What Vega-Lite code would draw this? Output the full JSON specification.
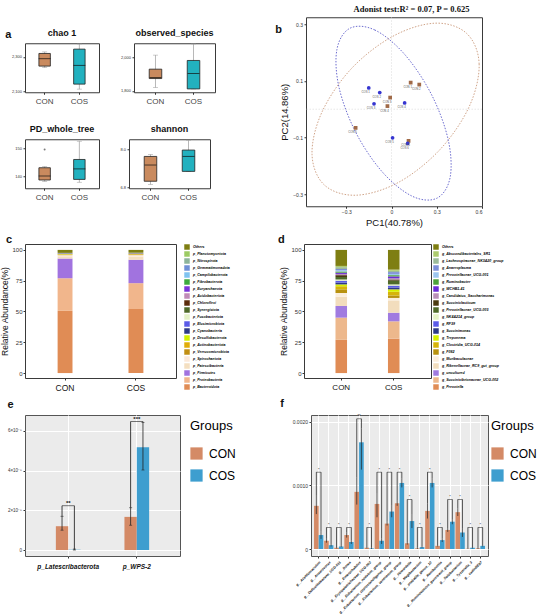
{
  "$schema": "https://vega.github.io/schema/vega-lite/v6.json",
  "background": "white",
  "padding": {"left": 0, "top": 3, "right": 0, "bottom": 0},
  "config": {
    "font": "Liberation Sans",
    "view": {"stroke": "#3a3a3a", "strokeWidth": 1},
    "axis": {"grid": false, "domain": false, "tickColor": "#333", "tickSize": 2, "labelColor": "#333", "titleFontWeight": "normal", "titleColor": "#111", "labelPadding": 1.5},
    "legend": {"titleFontWeight": "normal"},
    "title": {"fontWeight": "bold", "color": "#111"}
  },
  "datasets": {
    "alpha": [
      {"metric": "chao 1", "group": "CON", "min": 2238, "q1": 2247, "median": 2290, "q3": 2320, "max": 2329},
      {"metric": "chao 1", "group": "COS", "min": 2114, "q1": 2143, "median": 2251, "q3": 2345, "max": 2375},
      {"metric": "observed_species", "group": "CON", "min": 1820, "q1": 1874, "median": 1880, "q3": 1930, "max": 2014},
      {"metric": "observed_species", "group": "COS", "min": 1812, "q1": 1812, "median": 1904, "q3": 1982, "max": 2081},
      {"metric": "PD_whole_tree", "group": "CON", "min": 138.3, "q1": 138.8, "median": 140.2, "q3": 143.1, "max": 143.5},
      {"metric": "PD_whole_tree", "group": "COS", "min": 138, "q1": 139.0, "median": 142.7, "q3": 146.0, "max": 152.4},
      {"metric": "shannon", "group": "CON", "min": 6.89, "q1": 6.99, "median": 7.50, "q3": 7.77, "max": 7.83},
      {"metric": "shannon", "group": "COS", "min": 7.30, "q1": 7.30, "median": 7.77, "q3": 7.97, "max": 8.28}
    ],
    "alphaOut": [
      {"metric": "PD_whole_tree", "group": "CON", "value": 149.5}
    ],
    "pca": [
      {"sample": "CON 1", "group": "CON", "pc1": 0.127, "pc2": 0.094},
      {"sample": "CON 2", "group": "CON", "pc1": 0.184, "pc2": 0.087},
      {"sample": "CON 3", "group": "CON", "pc1": -0.009, "pc2": 0.041},
      {"sample": "CON 4", "group": "CON", "pc1": -0.027, "pc2": 0.011},
      {"sample": "CON 5", "group": "CON", "pc1": -0.238, "pc2": -0.066},
      {"sample": "CON 6", "group": "CON", "pc1": 0.113, "pc2": -0.112},
      {"sample": "COS 1", "group": "COS", "pc1": -0.151, "pc2": 0.075},
      {"sample": "COS 2", "group": "COS", "pc1": -0.078, "pc2": 0.059},
      {"sample": "COS 3", "group": "COS", "pc1": -0.116, "pc2": 0.019},
      {"sample": "COS 4", "group": "COS", "pc1": 0.087, "pc2": 0.022},
      {"sample": "COS 5", "group": "COS", "pc1": 0.007, "pc2": -0.101},
      {"sample": "COS 6", "group": "COS", "pc1": 0.107, "pc2": -0.121}
    ],
    "ellipse": [
      {"set": "CON", "t": 0, "pc1": 0.498, "pc2": 0.268},
      {"set": "CON", "t": 1, "pc1": 0.581, "pc2": 0.160},
      {"set": "CON", "t": 2, "pc1": 0.515, "pc2": 0.009},
      {"set": "CON", "t": 3, "pc1": 0.319, "pc2": -0.144},
      {"set": "CON", "t": 4, "pc1": 0.045, "pc2": -0.259},
      {"set": "CON", "t": 5, "pc1": -0.235, "pc2": -0.304},
      {"set": "CON", "t": 6, "pc1": -0.445, "pc2": -0.268},
      {"set": "CON", "t": 7, "pc1": -0.527, "pc2": -0.160},
      {"set": "CON", "t": 8, "pc1": -0.461, "pc2": -0.010},
      {"set": "CON", "t": 9, "pc1": -0.265, "pc2": 0.144},
      {"set": "CON", "t": 10, "pc1": 0.010, "pc2": 0.258},
      {"set": "CON", "t": 11, "pc1": 0.289, "pc2": 0.304},
      {"set": "COS", "t": 0, "pc1": -0.276, "pc2": 0.286},
      {"set": "COS", "t": 1, "pc1": -0.111, "pc2": 0.280},
      {"set": "COS", "t": 2, "pc1": 0.085, "pc2": 0.195},
      {"set": "COS", "t": 3, "pc1": 0.263, "pc2": 0.054},
      {"set": "COS", "t": 4, "pc1": 0.375, "pc2": -0.106},
      {"set": "COS", "t": 5, "pc1": 0.389, "pc2": -0.240},
      {"set": "COS", "t": 6, "pc1": 0.303, "pc2": -0.314},
      {"set": "COS", "t": 7, "pc1": 0.139, "pc2": -0.308},
      {"set": "COS", "t": 8, "pc1": -0.059, "pc2": -0.223},
      {"set": "COS", "t": 9, "pc1": -0.237, "pc2": -0.082},
      {"set": "COS", "t": 10, "pc1": -0.348, "pc2": 0.077},
      {"set": "COS", "t": 11, "pc1": -0.362, "pc2": 0.211}
    ],
    "phylum": [
      {"group": "CON", "taxon": "p_Bacteroidota", "pct": 50.5},
      {"group": "CON", "taxon": "p_Proteobacteria", "pct": 26.5},
      {"group": "CON", "taxon": "p_Firmicutes", "pct": 16},
      {"group": "CON", "taxon": "p_Patescibacteria", "pct": 1.8},
      {"group": "CON", "taxon": "p_Spirochaetota", "pct": 0.96},
      {"group": "CON", "taxon": "p_Verrucomicrobiota", "pct": 0.4},
      {"group": "CON", "taxon": "p_Actinobacteriota", "pct": 0.3},
      {"group": "CON", "taxon": "p_Desulfobacterota", "pct": 0.2},
      {"group": "CON", "taxon": "p_Cyanobacteria", "pct": 0.15},
      {"group": "CON", "taxon": "p_Elusimicrobiota", "pct": 0.1},
      {"group": "CON", "taxon": "p_Fusobacteriota", "pct": 0.1},
      {"group": "CON", "taxon": "p_Synergistota", "pct": 0.1},
      {"group": "CON", "taxon": "p_Chloroflexi", "pct": 0.1},
      {"group": "CON", "taxon": "p_Acidobacteriota", "pct": 0.08},
      {"group": "CON", "taxon": "p_Euryarchaeota", "pct": 0.08},
      {"group": "CON", "taxon": "p_Fibrobacterota", "pct": 0.06},
      {"group": "CON", "taxon": "p_Campilobacterota", "pct": 0.05},
      {"group": "CON", "taxon": "p_Gemmatimonadota", "pct": 0.04},
      {"group": "CON", "taxon": "p_Nitrospirota", "pct": 0.04},
      {"group": "CON", "taxon": "p_Planctomycetota", "pct": 0.04},
      {"group": "CON", "taxon": "Others", "pct": 2.4},
      {"group": "COS", "taxon": "p_Bacteroidota", "pct": 52},
      {"group": "COS", "taxon": "p_Proteobacteria", "pct": 21},
      {"group": "COS", "taxon": "p_Firmicutes", "pct": 19},
      {"group": "COS", "taxon": "p_Patescibacteria", "pct": 2.6},
      {"group": "COS", "taxon": "p_Spirochaetota", "pct": 1.2},
      {"group": "COS", "taxon": "p_Verrucomicrobiota", "pct": 0.5},
      {"group": "COS", "taxon": "p_Actinobacteriota", "pct": 0.3},
      {"group": "COS", "taxon": "p_Desulfobacterota", "pct": 0.2},
      {"group": "COS", "taxon": "p_Cyanobacteria", "pct": 0.15},
      {"group": "COS", "taxon": "p_Elusimicrobiota", "pct": 0.1},
      {"group": "COS", "taxon": "p_Fusobacteriota", "pct": 0.1},
      {"group": "COS", "taxon": "p_Synergistota", "pct": 0.1},
      {"group": "COS", "taxon": "p_Chloroflexi", "pct": 0.1},
      {"group": "COS", "taxon": "p_Acidobacteriota", "pct": 0.08},
      {"group": "COS", "taxon": "p_Euryarchaeota", "pct": 0.08},
      {"group": "COS", "taxon": "p_Fibrobacterota", "pct": 0.06},
      {"group": "COS", "taxon": "p_Campilobacterota", "pct": 0.05},
      {"group": "COS", "taxon": "p_Gemmatimonadota", "pct": 0.04},
      {"group": "COS", "taxon": "p_Nitrospirota", "pct": 0.04},
      {"group": "COS", "taxon": "p_Planctomycetota", "pct": 0.04},
      {"group": "COS", "taxon": "Others", "pct": 2.26}
    ],
    "genus": [
      {"group": "CON", "taxon": "g_Prevotella", "pct": 27},
      {"group": "CON", "taxon": "g_Succinivibrionaceae_UCG-002", "pct": 18},
      {"group": "CON", "taxon": "g_uncultured", "pct": 9.5},
      {"group": "CON", "taxon": "g_Rikenellaceae_RC9_gut_group", "pct": 7.5},
      {"group": "CON", "taxon": "g_Muribaculaceae", "pct": 3},
      {"group": "CON", "taxon": "g_F082", "pct": 3},
      {"group": "CON", "taxon": "g_Clostridia_UCG-014", "pct": 2.5},
      {"group": "CON", "taxon": "g_Treponema", "pct": 1.5},
      {"group": "CON", "taxon": "g_Succinimonas", "pct": 1.5},
      {"group": "CON", "taxon": "g_RF39", "pct": 1.5},
      {"group": "CON", "taxon": "g_NK4A214_group", "pct": 1},
      {"group": "CON", "taxon": "g_Prevotellaceae_UCG-003", "pct": 2},
      {"group": "CON", "taxon": "g_Succiniclasticum", "pct": 1.5},
      {"group": "CON", "taxon": "g_Candidatus_Saccharimonas", "pct": 1},
      {"group": "CON", "taxon": "g_WCHB1-41", "pct": 1},
      {"group": "CON", "taxon": "g_Ruminobacter", "pct": 1},
      {"group": "CON", "taxon": "g_Prevotellaceae_UCG-001", "pct": 1},
      {"group": "CON", "taxon": "g_Anaeroplasma", "pct": 1},
      {"group": "CON", "taxon": "g_Lachnospiraceae_NK3A20_group", "pct": 1.5},
      {"group": "CON", "taxon": "g_Abscondibacteriales_SR1", "pct": 1},
      {"group": "CON", "taxon": "Others", "pct": 13},
      {"group": "COS", "taxon": "g_Prevotella", "pct": 28},
      {"group": "COS", "taxon": "g_Succinivibrionaceae_UCG-002", "pct": 14},
      {"group": "COS", "taxon": "g_uncultured", "pct": 7},
      {"group": "COS", "taxon": "g_Rikenellaceae_RC9_gut_group", "pct": 10},
      {"group": "COS", "taxon": "g_Muribaculaceae", "pct": 2},
      {"group": "COS", "taxon": "g_F082", "pct": 2},
      {"group": "COS", "taxon": "g_Clostridia_UCG-014", "pct": 3},
      {"group": "COS", "taxon": "g_Treponema", "pct": 2},
      {"group": "COS", "taxon": "g_Succinimonas", "pct": 1.5},
      {"group": "COS", "taxon": "g_RF39", "pct": 1.5},
      {"group": "COS", "taxon": "g_NK4A214_group", "pct": 1},
      {"group": "COS", "taxon": "g_Prevotellaceae_UCG-003", "pct": 3},
      {"group": "COS", "taxon": "g_Succiniclasticum", "pct": 1},
      {"group": "COS", "taxon": "g_Candidatus_Saccharimonas", "pct": 1},
      {"group": "COS", "taxon": "g_WCHB1-41", "pct": 1.5},
      {"group": "COS", "taxon": "g_Ruminobacter", "pct": 1},
      {"group": "COS", "taxon": "g_Prevotellaceae_UCG-001", "pct": 1},
      {"group": "COS", "taxon": "g_Anaeroplasma", "pct": 1.5},
      {"group": "COS", "taxon": "g_Lachnospiraceae_NK3A20_group", "pct": 1},
      {"group": "COS", "taxon": "g_Abscondibacteriales_SR1", "pct": 1},
      {"group": "COS", "taxon": "Others", "pct": 16}
    ],
    "eBars": [
      {"taxon": "p_Latescribacterota", "group": "CON", "mean": 0.000012, "lo": 0.00001, "hi": 0.000017},
      {"taxon": "p_Latescribacterota", "group": "COS", "mean": 0.0000002, "lo": 0, "hi": 0.0000005},
      {"taxon": "p_WPS-2", "group": "CON", "mean": 0.0000167, "lo": 0.0000125, "hi": 0.0000213},
      {"taxon": "p_WPS-2", "group": "COS", "mean": 0.0000517, "lo": 0.0000403, "hi": 0.0000642}
    ],
    "eSig": [
      {"taxon": "p_Latescribacterota", "bk": 0.0000223, "sig": "**"},
      {"taxon": "p_WPS-2", "bk": 0.0000647, "sig": "***"}
    ],
    "fBars": [
      {"taxon": "g__Acetitomaculum", "group": "CON", "mean": 0.00068, "lo": 0.00055, "hi": 0.00085},
      {"taxon": "g__Acetitomaculum", "group": "COS", "mean": 0.00022, "lo": 0.00016, "hi": 0.00028},
      {"taxon": "g__Anaerovorax", "group": "CON", "mean": 0.00013, "lo": 0.0001, "hi": 0.00016},
      {"taxon": "g__Anaerovorax", "group": "COS", "mean": 0.00006, "lo": 0.00004, "hi": 0.00008},
      {"taxon": "g__Defluviitaleaceae_UCG-011", "group": "CON", "mean": 0.00002, "lo": 0.00001, "hi": 0.00003},
      {"taxon": "g__Defluviitaleaceae_UCG-011", "group": "COS", "mean": 0.00004, "lo": 0.00003, "hi": 0.00005},
      {"taxon": "g__Dorea", "group": "CON", "mean": 0.00022, "lo": 0.00018, "hi": 0.00026},
      {"taxon": "g__Dorea", "group": "COS", "mean": 0.00011, "lo": 0.00008, "hi": 0.00014},
      {"taxon": "g__Enterorhabdus", "group": "CON", "mean": 0.0009, "lo": 0.0007, "hi": 0.00113},
      {"taxon": "g__Enterorhabdus", "group": "COS", "mean": 0.00168, "lo": 0.00125, "hi": 0.0019},
      {"taxon": "g__Erysipelotrichaceae_UCG-002", "group": "CON", "mean": 0.00002, "lo": 0.00001, "hi": 0.00003},
      {"taxon": "g__Erysipelotrichaceae_UCG-002", "group": "COS", "mean": 0.00001, "lo": 0, "hi": 0.00002},
      {"taxon": "g__Eubacterium_nodatum_group", "group": "CON", "mean": 0.00071, "lo": 0.0005, "hi": 0.00087},
      {"taxon": "g__Eubacterium_nodatum_group", "group": "COS", "mean": 0.00013, "lo": 0.00008, "hi": 0.00017},
      {"taxon": "g__Eubacterium_coprostanoligenes_group", "group": "CON", "mean": 0.0004, "lo": 0.00037, "hi": 0.00043},
      {"taxon": "g__Eubacterium_coprostanoligenes_group", "group": "COS", "mean": 0.00059, "lo": 0.0005, "hi": 0.00068},
      {"taxon": "g__Eubacterium_ventriosum_group", "group": "CON", "mean": 0.00072, "lo": 0.00068, "hi": 0.00076},
      {"taxon": "g__Eubacterium_ventriosum_group", "group": "COS", "mean": 0.00104, "lo": 0.00097, "hi": 0.00111},
      {"taxon": "g__Howardella", "group": "CON", "mean": 0.00009, "lo": 0.00007, "hi": 0.00011},
      {"taxon": "g__Howardella", "group": "COS", "mean": 0.00044, "lo": 0.00033, "hi": 0.00055},
      {"taxon": "g__Mogibacterium", "group": "CON", "mean": 0.00001, "lo": 0, "hi": 0.00002},
      {"taxon": "g__Mogibacterium", "group": "COS", "mean": 0.00003, "lo": 0.00002, "hi": 0.00004},
      {"taxon": "g__probable_genus_10", "group": "CON", "mean": 0.0006, "lo": 0.00048, "hi": 0.00072},
      {"taxon": "g__probable_genus_10", "group": "COS", "mean": 0.00104, "lo": 0.00097, "hi": 0.00111},
      {"taxon": "g__Romboutsia", "group": "CON", "mean": 0.00005, "lo": 0.00004, "hi": 0.00006},
      {"taxon": "g__Romboutsia", "group": "COS", "mean": 0.00014, "lo": 0.00011, "hi": 0.00017},
      {"taxon": "g__Ruminococcus_gauvreauii_group", "group": "CON", "mean": 0.0003, "lo": 0.00027, "hi": 0.00033},
      {"taxon": "g__Ruminococcus_gauvreauii_group", "group": "COS", "mean": 0.00043, "lo": 0.00039, "hi": 0.00047},
      {"taxon": "g__Solobacterium", "group": "CON", "mean": 0.00058, "lo": 0.00052, "hi": 0.00064},
      {"taxon": "g__Solobacterium", "group": "COS", "mean": 0.00026, "lo": 0.00019, "hi": 0.00033},
      {"taxon": "g__Tyzzerella_3", "group": "CON", "mean": 0.000005, "lo": 0, "hi": 0.00001},
      {"taxon": "g__Tyzzerella_3", "group": "COS", "mean": 0.00002, "lo": 0.00001, "hi": 0.00003},
      {"taxon": "g__vadinBE97", "group": "CON", "mean": 0.00001, "lo": 0, "hi": 0.00002},
      {"taxon": "g__vadinBE97", "group": "COS", "mean": 0.00005, "lo": 0.00004, "hi": 0.00006}
    ],
    "fSig": [
      {"taxon": "g__Acetitomaculum", "bk": 0.00121, "sig": "*"},
      {"taxon": "g__Anaerovorax", "bk": 0.00034, "sig": "*"},
      {"taxon": "g__Defluviitaleaceae_UCG-011", "bk": 0.00034, "sig": "*"},
      {"taxon": "g__Dorea", "bk": 0.00034, "sig": "*"},
      {"taxon": "g__Enterorhabdus", "bk": 0.00205, "sig": "**"},
      {"taxon": "g__Erysipelotrichaceae_UCG-002", "bk": 0.00034, "sig": "*"},
      {"taxon": "g__Eubacterium_nodatum_group", "bk": 0.00121, "sig": "*"},
      {"taxon": "g__Eubacterium_coprostanoligenes_group", "bk": 0.00121, "sig": "*"},
      {"taxon": "g__Eubacterium_ventriosum_group", "bk": 0.00121, "sig": "*"},
      {"taxon": "g__Howardella", "bk": 0.00078, "sig": "*"},
      {"taxon": "g__Mogibacterium", "bk": 0.00034, "sig": "*"},
      {"taxon": "g__probable_genus_10", "bk": 0.00121, "sig": "*"},
      {"taxon": "g__Romboutsia", "bk": 0.00034, "sig": "*"},
      {"taxon": "g__Ruminococcus_gauvreauii_group", "bk": 0.00078, "sig": "*"},
      {"taxon": "g__Solobacterium", "bk": 0.00078, "sig": "*"},
      {"taxon": "g__Tyzzerella_3", "bk": 0.00034, "sig": "*"},
      {"taxon": "g__vadinBE97", "bk": 0.00034, "sig": "*"}
    ]
  },
  "spacing": 5,
  "resolve": {"scale": {"color": "independent", "fill": "independent", "shape": "independent", "stroke": "independent", "xOffset": "independent"}, "legend": {"color": "independent", "fill": "independent", "shape": "independent", "stroke": "independent"}},
  "vconcat": [
    {
      "spacing": 58,
      "center": true,
      "resolve": {"scale": {"color": "independent", "fill": "independent", "shape": "independent", "stroke": "independent"}, "legend": {"color": "independent", "fill": "independent", "shape": "independent", "stroke": "independent"}},
      "hconcat": [
        {
          "title": {"text": "a", "orient": "left", "angle": 0, "anchor": "end", "fontSize": 11, "offset": -6.5},
          "spacing": 18,
          "vconcat": [
            {
              "spacing": 19,
              "hconcat": [
                {
                  "title": {"text": "chao 1", "fontSize": 9, "offset": 5},
                  "width": 74, "height": 49,
                  "data": {"name": "alpha"},
                  "transform": [{"filter": "datum.metric === 'chao 1'"}],
                  "encoding": {"x": {"field": "group", "type": "nominal", "scale": {"paddingInner": 0.67, "paddingOuter": 0.4}, "axis": {"title": null, "labelAngle": 0, "labelFontSize": 8, "labelColor": "#444", "labelPadding": 3}}},
                  "layer": [
                    {"mark": {"type": "rule", "color": "#999", "strokeWidth": 0.7}, "encoding": {"y": {"field": "min", "type": "quantitative", "scale": {"domain": [2096, 2379], "nice": false, "zero": false}, "axis": {"title": null, "values": [2100, 2200, 2300], "labelFontSize": 4}}, "y2": {"field": "max"}}},
                    {"mark": {"type": "tick", "color": "#999", "size": 5, "thickness": 0.7}, "encoding": {"y": {"field": "min", "type": "quantitative"}}},
                    {"mark": {"type": "tick", "color": "#999", "size": 5, "thickness": 0.7}, "encoding": {"y": {"field": "max", "type": "quantitative"}}},
                    {"mark": {"type": "bar", "stroke": "#222", "strokeWidth": 0.8}, "encoding": {"y": {"field": "q1", "type": "quantitative"}, "y2": {"field": "q3"}, "fill": {"field": "group", "type": "nominal", "scale": {"domain": ["CON", "COS"], "range": ["#C98A5E", "#22B1BF"]}, "legend": null}}},
                    {"mark": {"type": "tick", "color": "#111", "size": 12, "thickness": 1}, "encoding": {"y": {"field": "median", "type": "quantitative"}}}
                  ]
                },
                {
                  "title": {"text": "observed_species", "fontSize": 9, "offset": 5},
                  "width": 81, "height": 49,
                  "data": {"name": "alpha"},
                  "transform": [{"filter": "datum.metric === 'observed_species'"}],
                  "encoding": {"x": {"field": "group", "type": "nominal", "scale": {"paddingInner": 0.67, "paddingOuter": 0.4}, "axis": {"title": null, "labelAngle": 0, "labelFontSize": 8, "labelColor": "#444", "labelPadding": 3}}},
                  "layer": [
                    {"mark": {"type": "rule", "color": "#999", "strokeWidth": 0.7}, "encoding": {"y": {"field": "min", "type": "quantitative", "scale": {"domain": [1792, 2085], "nice": false, "zero": false}, "axis": {"title": null, "values": [1800, 1900, 2000], "labelFontSize": 4}}, "y2": {"field": "max"}}},
                    {"mark": {"type": "tick", "color": "#999", "size": 5, "thickness": 0.7}, "encoding": {"y": {"field": "min", "type": "quantitative"}}},
                    {"mark": {"type": "tick", "color": "#999", "size": 5, "thickness": 0.7}, "encoding": {"y": {"field": "max", "type": "quantitative"}}},
                    {"mark": {"type": "bar", "stroke": "#222", "strokeWidth": 0.8}, "encoding": {"y": {"field": "q1", "type": "quantitative"}, "y2": {"field": "q3"}, "fill": {"field": "group", "type": "nominal", "scale": {"domain": ["CON", "COS"], "range": ["#C98A5E", "#2A9FC4"]}, "legend": null}}},
                    {"mark": {"type": "tick", "color": "#111", "size": 12, "thickness": 1}, "encoding": {"y": {"field": "median", "type": "quantitative"}}}
                  ]
                }
              ]
            },
            {
              "spacing": 19,
              "hconcat": [
                {
                  "title": {"text": "PD_whole_tree", "fontSize": 9, "offset": 5},
                  "width": 74, "height": 49,
                  "data": {"name": "alpha"},
                  "transform": [{"filter": "datum.metric === 'PD_whole_tree'"}],
                  "encoding": {"x": {"field": "group", "type": "nominal", "scale": {"paddingInner": 0.67, "paddingOuter": 0.4}, "axis": {"title": null, "labelAngle": 0, "labelFontSize": 8, "labelColor": "#444", "labelPadding": 3}}},
                  "layer": [
                    {"mark": {"type": "rule", "color": "#999", "strokeWidth": 0.7}, "encoding": {"y": {"field": "min", "type": "quantitative", "scale": {"domain": [135.9, 153.1], "nice": false, "zero": false}, "axis": {"title": null, "values": [140, 145, 150], "labelFontSize": 4}}, "y2": {"field": "max"}}},
                    {"mark": {"type": "tick", "color": "#999", "size": 5, "thickness": 0.7}, "encoding": {"y": {"field": "min", "type": "quantitative"}}},
                    {"mark": {"type": "tick", "color": "#999", "size": 5, "thickness": 0.7}, "encoding": {"y": {"field": "max", "type": "quantitative"}}},
                    {"mark": {"type": "bar", "stroke": "#222", "strokeWidth": 0.8}, "encoding": {"y": {"field": "q1", "type": "quantitative"}, "y2": {"field": "q3"}, "fill": {"field": "group", "type": "nominal", "scale": {"domain": ["CON", "COS"], "range": ["#C98A5E", "#3B8FC6"]}, "legend": null}}},
                    {"mark": {"type": "tick", "color": "#111", "size": 12, "thickness": 1}, "encoding": {"y": {"field": "median", "type": "quantitative"}}},
                    {"data": {"name": "alphaOut"}, "transform": [{"filter": "datum.metric === 'PD_whole_tree'"}], "mark": {"type": "point", "filled": true, "size": 4, "color": "#444"}, "encoding": {"y": {"field": "value", "type": "quantitative"}}}
                  ]
                },
                {
                  "title": {"text": "shannon", "fontSize": 9, "offset": 5},
                  "width": 81, "height": 49,
                  "data": {"name": "alpha"},
                  "transform": [{"filter": "datum.metric === 'shannon'"}],
                  "encoding": {"x": {"field": "group", "type": "nominal", "scale": {"paddingInner": 0.67, "paddingOuter": 0.4}, "axis": {"title": null, "labelAngle": 0, "labelFontSize": 8, "labelColor": "#444", "labelPadding": 3}}},
                  "layer": [
                    {"mark": {"type": "rule", "color": "#999", "strokeWidth": 0.7}, "encoding": {"y": {"field": "min", "type": "quantitative", "scale": {"domain": [6.77, 8.31], "nice": false, "zero": false}, "axis": {"title": null, "values": [6.8, 7.2, 7.6, 8.0], "format": ".1f", "labelFontSize": 4}}, "y2": {"field": "max"}}},
                    {"mark": {"type": "tick", "color": "#999", "size": 5, "thickness": 0.7}, "encoding": {"y": {"field": "min", "type": "quantitative"}}},
                    {"mark": {"type": "tick", "color": "#999", "size": 5, "thickness": 0.7}, "encoding": {"y": {"field": "max", "type": "quantitative"}}},
                    {"mark": {"type": "bar", "stroke": "#222", "strokeWidth": 0.8}, "encoding": {"y": {"field": "q1", "type": "quantitative"}, "y2": {"field": "q3"}, "fill": {"field": "group", "type": "nominal", "scale": {"domain": ["CON", "COS"], "range": ["#C97A5A", "#22B1BF"]}, "legend": null}}},
                    {"mark": {"type": "tick", "color": "#111", "size": 12, "thickness": 1}, "encoding": {"y": {"field": "median", "type": "quantitative"}}}
                  ]
                }
              ]
            }
          ]
        },
        {
          "title": {"text": "b", "orient": "left", "angle": 0, "anchor": "end", "fontSize": 11, "offset": -9, "dy": 20},
          "width": 176, "height": 189,
          "resolve": {"scale": {"x": "independent"}},
          "layer": [
            {"data": {"values": [{}]}, "mark": {"type": "rule", "strokeDash": [1.5, 1.5], "color": "#d6d6d6", "strokeWidth": 0.6}, "encoding": {"x": {"datum": 0, "type": "quantitative", "scale": {"domain": [-0.567, 0.6], "nice": false, "zero": false}, "axis": {"orient": "top", "title": "Adonist test:R² = 0.07, P = 0.625", "titleFont": "Liberation Serif", "titleFontSize": 8.5, "titleFontWeight": "bold", "titleColor": "#111", "titlePadding": 4, "titleX": 105, "labels": false, "ticks": false, "domain": false, "grid": false}}}},
            {"data": {"values": [{}]}, "mark": {"type": "rule", "strokeDash": [1.5, 1.5], "color": "#d6d6d6", "strokeWidth": 0.6}, "encoding": {"y": {"datum": 0, "type": "quantitative", "scale": {"domain": [-0.343, 0.325], "nice": false, "zero": false}}}},
            {
              "data": {"name": "ellipse"},
              "mark": {"type": "line", "interpolate": "cardinal-closed", "strokeDash": [1.5, 1.5], "strokeWidth": 0.9},
              "encoding": {
                "x": {"field": "pc1", "type": "quantitative", "scale": {"domain": [-0.567, 0.6], "nice": false, "zero": false}, "axis": {"title": "PC1(40.78%)", "titleFontSize": 9.5, "titlePadding": 3, "values": [-0.3, 0, 0.3, 0.6], "format": "~g", "labelFontSize": 5}},
                "y": {"field": "pc2", "type": "quantitative", "scale": {"domain": [-0.343, 0.325], "nice": false, "zero": false}, "axis": {"title": "PC2(14.86%)", "titleFontSize": 9.5, "titlePadding": 3, "values": [-0.3, -0.2, -0.1, 0, 0.1, 0.2, 0.3], "format": "~g", "labelFontSize": 5}},
                "stroke": {"field": "set", "type": "nominal", "scale": {"domain": ["CON", "COS"], "range": ["#C9987A", "#5B5BC9"]}, "legend": null},
                "order": {"field": "t", "type": "quantitative"}
              }
            },
            {
              "data": {"name": "pca"},
              "mark": {"type": "point", "filled": true, "size": 14, "opacity": 1},
              "encoding": {
                "x": {"field": "pc1", "type": "quantitative", "scale": {"domain": [-0.567, 0.6], "nice": false, "zero": false}, "axis": null},
                "y": {"field": "pc2", "type": "quantitative"},
                "color": {"field": "group", "type": "nominal", "scale": {"domain": ["CON", "COS"], "range": ["#A06A48", "#3535D0"]}, "legend": {"title": null, "orient": "right", "offset": 10, "padding": 35, "labelFontSize": 9.5, "symbolSize": 120, "rowPadding": 13, "labelOffset": 17, "symbolOpacity": 1, "encode": {"symbols": {"update": {"shape": {"signal": "datum.value === 'CON' ? 'square' : 'circle'"}}}}}},
                "shape": {"field": "group", "type": "nominal", "scale": {"domain": ["CON", "COS"], "range": ["square", "circle"]}, "legend": null}
              }
            },
            {
              "data": {"name": "pca"},
              "mark": {"type": "text", "fontSize": 2.8, "dy": 4, "dx": -3, "color": "#555"},
              "encoding": {
                "x": {"field": "pc1", "type": "quantitative", "scale": {"domain": [-0.567, 0.6], "nice": false, "zero": false}, "axis": null},
                "y": {"field": "pc2", "type": "quantitative"},
                "text": {"field": "sample"}
              }
            }
          ]
        }
      ]
    },
    {
      "spacing": 46,
      "resolve": {"scale": {"color": "independent", "fill": "independent"}, "legend": {"color": "independent", "fill": "independent"}},
      "hconcat": [
        {
          "title": {"text": "c", "anchor": "start", "frame": "bounds", "fontSize": 11, "offset": -1, "dx": 5},
          "width": 151, "height": 134,
          "data": {"name": "phylum"},
          "transform": [{"window": [{"op": "row_number", "as": "k"}], "groupby": ["group"]}],
          "mark": {"type": "bar"},
          "encoding": {
            "x": {"field": "group", "type": "nominal", "scale": {"paddingInner": 0.79, "paddingOuter": 0.46}, "axis": {"title": null, "labelAngle": 0, "labelFontSize": 8.5, "labelColor": "#111", "labelPadding": 3}},
            "y": {"field": "pct", "type": "quantitative", "stack": "zero", "scale": {"domain": [-4, 104.8], "nice": false, "zero": false}, "axis": {"title": "Relative Abundance(%)", "titleFontSize": 8.5, "titlePadding": 2, "values": [0, 25, 50, 75, 100], "labelFontSize": 6, "labelPadding": 1}},
            "order": {"field": "k", "type": "quantitative", "sort": "ascending"},
            "color": {
              "field": "taxon", "type": "nominal",
              "scale": {
                "domain": ["Others", "p_Planctomycetota", "p_Nitrospirota", "p_Gemmatimonadota", "p_Campilobacterota", "p_Fibrobacterota", "p_Euryarchaeota", "p_Acidobacteriota", "p_Chloroflexi", "p_Synergistota", "p_Fusobacteriota", "p_Elusimicrobiota", "p_Cyanobacteria", "p_Desulfobacterota", "p_Actinobacteriota", "p_Verrucomicrobiota", "p_Spirochaetota", "p_Patescibacteria", "p_Firmicutes", "p_Proteobacteria", "p_Bacteroidota"],
                "range": ["#7E7E12", "#9CCB63", "#8DB49A", "#6F8FD6", "#7FC3F0", "#3DAA3D", "#7B34D8", "#C08AB8", "#5B2C0C", "#4F6B2A", "#E4F2C6", "#5B5BE8", "#2E3A87", "#D3F000", "#E0AD0A", "#C18F12", "#FBE9DA", "#F4DFC0", "#A173DF", "#F1B68C", "#E08C55"]
              },
              "legend": {"title": null, "labelFontSize": 3.6, "labelFontStyle": "italic", "labelFontWeight": "bold", "symbolType": "square", "symbolSize": 30, "symbolStrokeWidth": 0, "rowPadding": 1, "offset": 8, "labelOffset": 3}
            }
          }
        },
        {
          "title": {"text": "d", "anchor": "start", "frame": "bounds", "fontSize": 11, "offset": -1, "dx": -2},
          "width": 127, "height": 134,
          "data": {"name": "genus"},
          "transform": [{"window": [{"op": "row_number", "as": "k"}], "groupby": ["group"]}],
          "mark": {"type": "bar"},
          "encoding": {
            "x": {"field": "group", "type": "nominal", "scale": {"paddingInner": 0.78, "paddingOuter": 0.6}, "axis": {"title": null, "labelAngle": 0, "labelFontSize": 8, "labelColor": "#111", "labelPadding": 3}},
            "y": {"field": "pct", "type": "quantitative", "stack": "zero", "scale": {"domain": [-4, 104.8], "nice": false, "zero": false}, "axis": {"title": "Relative Abundance(%)", "titleFontSize": 8.5, "titlePadding": 2, "values": [0, 25, 50, 75, 100], "labelFontSize": 6, "labelPadding": 1}},
            "order": {"field": "k", "type": "quantitative", "sort": "ascending"},
            "color": {
              "field": "taxon", "type": "nominal",
              "scale": {
                "domain": ["Others", "g_Abscondibacteriales_SR1", "g_Lachnospiraceae_NK3A20_group", "g_Anaeroplasma", "g_Prevotellaceae_UCG-001", "g_Ruminobacter", "g_WCHB1-41", "g_Candidatus_Saccharimonas", "g_Succiniclasticum", "g_Prevotellaceae_UCG-003", "g_NK4A214_group", "g_RF39", "g_Succinimonas", "g_Treponema", "g_Clostridia_UCG-014", "g_F082", "g_Muribaculaceae", "g_Rikenellaceae_RC9_gut_group", "g_uncultured", "g_Succinivibrionaceae_UCG-002", "g_Prevotella"],
                "range": ["#7E7E12", "#ADCB6E", "#9DBB9A", "#7D8FD8", "#9CC6F0", "#4DA33B", "#6A2CD6", "#B98FB8", "#4B3B12", "#4F6B2A", "#E4F2C6", "#5B5BE8", "#2E3A87", "#D7F000", "#D6B40A", "#B8920F", "#FBEEDD", "#F2DDBD", "#A07BE0", "#EDB88C", "#E08C55"]
              },
              "legend": {"title": null, "labelFontSize": 3.6, "labelFontStyle": "italic", "labelFontWeight": "bold", "symbolType": "square", "symbolSize": 30, "symbolStrokeWidth": 0, "rowPadding": 1, "offset": 2, "labelOffset": 3}
            }
          }
        }
      ]
    },
    {
      "spacing": 37,
      "resolve": {"scale": {"fill": "independent", "xOffset": "independent"}, "legend": {"fill": "independent"}},
      "hconcat": [
        {
          "title": {"text": "e", "anchor": "start", "frame": "bounds", "fontSize": 11, "offset": 5},
          "width": 155, "height": 141,
          "view": {"fill": "#EBEBEB", "stroke": "#555"},
          "layer": [
            {
              "data": {"name": "eBars"},
              "mark": {"type": "bar"},
              "encoding": {
                "x": {"field": "taxon", "type": "nominal", "sort": null, "scale": {"paddingInner": 0.64, "paddingOuter": 0.45}, "axis": {"title": null, "labelAngle": 0, "labelFontSize": 6.5, "labelFontWeight": "bold", "labelFontStyle": "italic", "labelColor": "#111", "labelPadding": 5, "grid": true, "gridColor": "white", "gridWidth": 1}},
                "xOffset": {"field": "group", "type": "nominal", "scale": {"paddingInner": 0, "paddingOuter": 0}},
                "y": {"field": "mean", "type": "quantitative", "scale": {"domain": [-0.000003, 0.000068], "nice": false, "zero": false}, "axis": {"title": null, "values": [0, 0.00002, 0.00004, 0.00006], "labelExpr": "datum.value == 0 ? '0' : format(datum.value * 100000, 'd') + '×10⁻⁵'", "labelFontSize": 4.5, "grid": true, "gridColor": "white", "gridWidth": 1}},
                "y2": {"datum": 0},
                "fill": {"field": "group", "type": "nominal", "scale": {"domain": ["CON", "COS"], "range": ["#D48A66", "#3E9ECF"]}, "legend": {"title": "Groups", "titleFontSize": 13, "labelFontSize": 12, "symbolType": "square", "symbolSize": 150, "symbolStrokeWidth": 0, "rowPadding": 9, "titlePadding": 14, "offset": 5, "padding": 5, "labelOffset": 6}}
              }
            },
            {
              "data": {"name": "eBars"},
              "mark": {"type": "rule", "color": "#222", "strokeWidth": 0.8},
              "encoding": {
                "x": {"field": "taxon", "type": "nominal", "sort": null},
                "xOffset": {"field": "group", "type": "nominal"},
                "y": {"field": "lo", "type": "quantitative"},
                "y2": {"field": "hi"}
              }
            },
            {
              "data": {"name": "eBars"},
              "mark": {"type": "tick", "color": "#222", "size": 3, "thickness": 0.8},
              "encoding": {
                "x": {"field": "taxon", "type": "nominal", "sort": null},
                "xOffset": {"field": "group", "type": "nominal"},
                "y": {"field": "lo", "type": "quantitative"}
              }
            },
            {
              "data": {"name": "eBars"},
              "mark": {"type": "tick", "color": "#222", "size": 3, "thickness": 0.8},
              "encoding": {
                "x": {"field": "taxon", "type": "nominal", "sort": null},
                "xOffset": {"field": "group", "type": "nominal"},
                "y": {"field": "hi", "type": "quantitative"}
              }
            },
            {
              "data": {"name": "eBars"},
              "transform": [{"lookup": "taxon", "from": {"data": {"name": "eSig"}, "key": "taxon", "fields": ["bk"]}}],
              "mark": {"type": "rule", "color": "#111", "strokeWidth": 0.8},
              "encoding": {
                "x": {"field": "taxon", "type": "nominal", "sort": null},
                "xOffset": {"field": "group", "type": "nominal"},
                "y": {"field": "hi", "type": "quantitative"},
                "y2": {"field": "bk"}
              }
            },
            {
              "data": {"name": "eSig"},
              "mark": {"type": "tick", "color": "#111", "size": 12.4, "thickness": 0.8},
              "encoding": {
                "x": {"field": "taxon", "type": "nominal", "sort": null},
                "y": {"field": "bk", "type": "quantitative"}
              }
            },
            {
              "data": {"name": "eSig"},
              "mark": {"type": "text", "fontSize": 6, "dy": -3, "color": "#111", "fontWeight": "bold"},
              "encoding": {
                "x": {"field": "taxon", "type": "nominal", "sort": null},
                "y": {"field": "bk", "type": "quantitative"},
                "text": {"field": "sig"}
              }
            }
          ]
        },
        {
          "title": {"text": "f", "anchor": "start", "frame": "bounds", "fontSize": 11, "offset": 5, "dx": -12},
          "width": 177, "height": 141,
          "view": {"fill": "#EBEBEB", "stroke": "#555"},
          "layer": [
            {
              "data": {"name": "fBars"},
              "mark": {"type": "bar"},
              "encoding": {
                "x": {"field": "taxon", "type": "nominal", "sort": null, "scale": {"paddingInner": 0.08, "paddingOuter": 0.3}, "axis": {"title": null, "labelAngle": -45, "labelAlign": "right", "labelBaseline": "top", "labelFontSize": 3.5, "labelFontWeight": "bold", "labelFontStyle": "italic", "labelColor": "#111", "labelOverlap": false, "labelPadding": 2, "grid": true, "gridColor": "white", "gridWidth": 1}},
                "xOffset": {"field": "group", "type": "nominal", "scale": {"paddingInner": 0, "paddingOuter": 0}},
                "y": {"field": "mean", "type": "quantitative", "scale": {"domain": [-0.00011, 0.00211], "nice": false, "zero": false}, "axis": {"title": null, "values": [0, 0.0005, 0.001, 0.0015, 0.002], "labelExpr": "datum.value == 0 ? '0' : format(datum.value, '.4f')", "labelFontSize": 5, "grid": true, "gridColor": "white", "gridWidth": 1}},
                "y2": {"datum": 0},
                "fill": {"field": "group", "type": "nominal", "scale": {"domain": ["CON", "COS"], "range": ["#D48A66", "#3E9ECF"]}, "legend": {"title": "Groups", "titleFontSize": 13, "labelFontSize": 12, "symbolType": "square", "symbolSize": 150, "symbolStrokeWidth": 0, "rowPadding": 9, "titlePadding": 14, "offset": -2, "padding": 5, "labelOffset": 6}}
              }
            },
            {
              "data": {"name": "fBars"},
              "mark": {"type": "rule", "color": "#222", "strokeWidth": 0.7},
              "encoding": {
                "x": {"field": "taxon", "type": "nominal", "sort": null},
                "xOffset": {"field": "group", "type": "nominal"},
                "y": {"field": "lo", "type": "quantitative"},
                "y2": {"field": "hi"}
              }
            },
            {
              "data": {"name": "fBars"},
              "transform": [{"lookup": "taxon", "from": {"data": {"name": "fSig"}, "key": "taxon", "fields": ["bk"]}}],
              "mark": {"type": "rule", "color": "#111", "strokeWidth": 0.7},
              "encoding": {
                "x": {"field": "taxon", "type": "nominal", "sort": null},
                "xOffset": {"field": "group", "type": "nominal"},
                "y": {"field": "hi", "type": "quantitative"},
                "y2": {"field": "bk"}
              }
            },
            {
              "data": {"name": "fSig"},
              "mark": {"type": "tick", "color": "#111", "size": 4.8, "thickness": 0.7},
              "encoding": {
                "x": {"field": "taxon", "type": "nominal", "sort": null},
                "y": {"field": "bk", "type": "quantitative"}
              }
            },
            {
              "data": {"name": "fSig"},
              "mark": {"type": "text", "fontSize": 4, "dy": -2.5, "color": "#111"},
              "encoding": {
                "x": {"field": "taxon", "type": "nominal", "sort": null},
                "y": {"field": "bk", "type": "quantitative"},
                "text": {"field": "sig"}
              }
            }
          ]
        }
      ]
    }
  ]
}
